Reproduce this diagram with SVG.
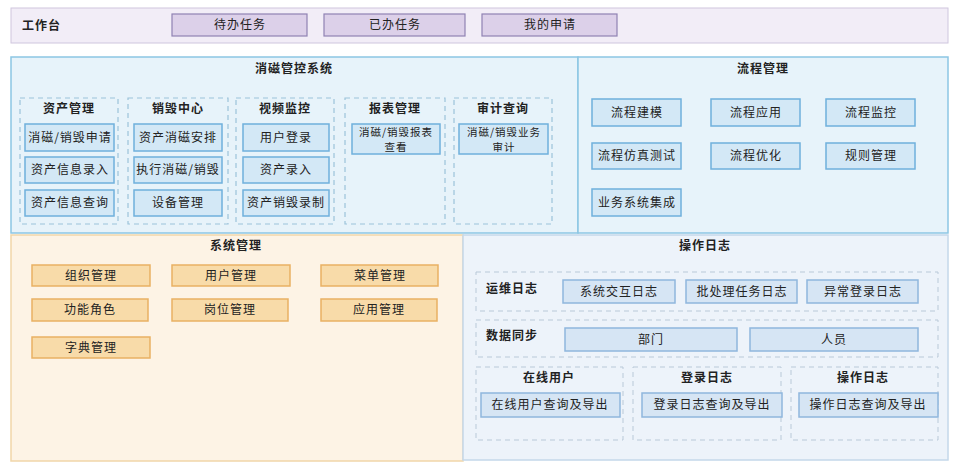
<svg xmlns="http://www.w3.org/2000/svg" width="960" height="474" viewBox="0 0 960 474">
<style>
text{font-family:"Noto Sans CJK SC","Liberation Sans",sans-serif;font-size:12px;fill:#222;letter-spacing:1px}
.t{font-weight:bold;text-anchor:middle}
.tl{font-weight:bold}
.c{text-anchor:middle}
.s{font-size:10.5px}
.bar{fill:#f2edf7;stroke:#cfc6de;stroke-width:1}
.pb{fill:#dcd0e9;stroke:#8f82b3;stroke-width:1.2}
.pnl{fill:#e7f3fa;stroke:#8cc6e4;stroke-width:1.5}
.bx{fill:#d3e8f6;stroke:#6fb0dc;stroke-width:1.5}
.dg{fill:none;stroke:#9cc3da;stroke-width:1.2;stroke-dasharray:5 4}
.sys{fill:#fdf3e5;stroke:#f1d6a9;stroke-width:1.5}
.ob{fill:#f8dba9;stroke:#e9b163;stroke-width:1.5}
.log{fill:#edf3fa;stroke:#c4d8ea;stroke-width:1.5}
.lb{fill:#d6e5f4;stroke:#8fb6dd;stroke-width:1.5}
.dl{fill:none;stroke:#b9c9d8;stroke-width:1;stroke-dasharray:5 4}
</style>
<rect width="960" height="474" fill="#ffffff"/>

<g id="workbench">
<rect class="bar" x="11" y="8" width="937" height="35"/>
<text class="tl" x="22" y="30">工作台</text>
<g id="todo"><rect class="pb" x="172" y="14" width="135" height="22"/><text class="c" x="240" y="29">待办任务</text></g>
<g id="done"><rect class="pb" x="324" y="14" width="141" height="22"/><text class="c" x="395" y="29">已办任务</text></g>
<g id="myapply"><rect class="pb" x="482" y="14" width="135" height="22"/><text class="c" x="550" y="29">我的申请</text></g>
</g>

<g id="demag">
<rect class="pnl" x="11" y="57" width="567" height="176"/>
<text class="t" x="294" y="73">消磁管控系统</text>
<g id="asset">
<rect class="dg" x="20" y="98" width="98" height="126"/>
<text class="t" x="69" y="113">资产管理</text>
<rect class="bx" x="25" y="124" width="89" height="27"/><text class="c" x="70" y="142">消磁/销毁申请</text>
<rect class="bx" x="25" y="157" width="89" height="26"/><text class="c" x="70" y="174">资产信息录入</text>
<rect class="bx" x="25" y="190" width="89" height="26"/><text class="c" x="70" y="207">资产信息查询</text>
</g>
<g id="destroy">
<rect class="dg" x="128" y="98" width="100" height="126"/>
<text class="t" x="178" y="113">销毁中心</text>
<rect class="bx" x="134" y="124" width="88" height="27"/><text class="c" x="178" y="142">资产消磁安排</text>
<rect class="bx" x="134" y="157" width="88" height="26"/><text class="c" x="178" y="174">执行消磁/销毁</text>
<rect class="bx" x="134" y="190" width="88" height="26"/><text class="c" x="178" y="207">设备管理</text>
</g>
<g id="video">
<rect class="dg" x="236" y="98" width="98" height="126"/>
<text class="t" x="285" y="113">视频监控</text>
<rect class="bx" x="243" y="124" width="86" height="27"/><text class="c" x="286" y="142">用户登录</text>
<rect class="bx" x="243" y="157" width="86" height="26"/><text class="c" x="286" y="174">资产录入</text>
<rect class="bx" x="243" y="190" width="86" height="26"/><text class="c" x="286" y="207">资产销毁录制</text>
</g>
<g id="report">
<rect class="dg" x="345" y="98" width="100" height="126"/>
<text class="t" x="395" y="113">报表管理</text>
<rect class="bx" x="352" y="124" width="88" height="30"/>
<text class="c s" x="396" y="135.5">消磁/销毁报表</text><text class="c s" x="396" y="150.5">查看</text>
</g>
<g id="audit">
<rect class="dg" x="454" y="98" width="98" height="126"/>
<text class="t" x="503" y="113">审计查询</text>
<rect class="bx" x="459" y="124" width="89" height="30"/>
<text class="c s" x="504" y="135.5">消磁/销毁业务</text><text class="c s" x="504" y="150.5">审计</text>
</g>
</g>

<g id="flow">
<rect class="pnl" x="578" y="57" width="370" height="176"/>
<text class="t" x="763" y="73">流程管理</text>
<rect class="bx" x="592" y="99" width="89" height="27"/><text class="c" x="637" y="117">流程建模</text>
<rect class="bx" x="711" y="99" width="89" height="27"/><text class="c" x="756" y="117">流程应用</text>
<rect class="bx" x="826" y="99" width="89" height="27"/><text class="c" x="871" y="117">流程监控</text>
<rect class="bx" x="592" y="143" width="89" height="26"/><text class="c" x="637" y="160">流程仿真测试</text>
<rect class="bx" x="711" y="143" width="89" height="26"/><text class="c" x="756" y="160">流程优化</text>
<rect class="bx" x="826" y="143" width="89" height="26"/><text class="c" x="871" y="160">规则管理</text>
<rect class="bx" x="592" y="189" width="89" height="27"/><text class="c" x="637" y="207">业务系统集成</text>
</g>

<g id="sysmgmt">
<rect class="sys" x="11" y="235" width="452" height="226"/>
<text class="t" x="236" y="250">系统管理</text>
<rect class="ob" x="32" y="265" width="118" height="21"/><text class="c" x="91" y="280">组织管理</text>
<rect class="ob" x="172" y="265" width="118" height="21"/><text class="c" x="231" y="280">用户管理</text>
<rect class="ob" x="321" y="265" width="117" height="21"/><text class="c" x="380" y="280">菜单管理</text>
<rect class="ob" x="32" y="299" width="116" height="22"/><text class="c" x="90" y="314">功能角色</text>
<rect class="ob" x="172" y="299" width="116" height="22"/><text class="c" x="230" y="314">岗位管理</text>
<rect class="ob" x="321" y="299" width="116" height="22"/><text class="c" x="379" y="314">应用管理</text>
<rect class="ob" x="32" y="337" width="118" height="21"/><text class="c" x="91" y="352">字典管理</text>
</g>

<g id="oplog">
<rect class="log" x="463" y="235" width="485" height="225"/>
<text class="t" x="705" y="250">操作日志</text>
<g id="ops">
<rect class="dl" x="476" y="272" width="462" height="39"/>
<text class="tl" x="486" y="293">运维日志</text>
<rect class="lb" x="563" y="280" width="112" height="23"/><text class="c" x="619" y="296">系统交互日志</text>
<rect class="lb" x="686" y="280" width="111" height="23"/><text class="c" x="742" y="296">批处理任务日志</text>
<rect class="lb" x="807" y="280" width="111" height="23"/><text class="c" x="863" y="296">异常登录日志</text>
</g>
<g id="sync">
<rect class="dl" x="476" y="320" width="462" height="37"/>
<text class="tl" x="486" y="340">数据同步</text>
<rect class="lb" x="565" y="328" width="172" height="23"/><text class="c" x="651" y="344">部门</text>
<rect class="lb" x="750" y="328" width="168" height="23"/><text class="c" x="834" y="344">人员</text>
</g>
<g id="online">
<rect class="dl" x="476" y="367" width="147" height="73"/>
<text class="t" x="549" y="382">在线用户</text>
<rect class="lb" x="481" y="393" width="139" height="24"/><text class="c" x="550" y="409">在线用户查询及导出</text>
</g>
<g id="loginlog">
<rect class="dl" x="633" y="367" width="148" height="73"/>
<text class="t" x="707" y="382">登录日志</text>
<rect class="lb" x="642" y="393" width="140" height="24"/><text class="c" x="712" y="409">登录日志查询及导出</text>
</g>
<g id="actlog">
<rect class="dl" x="791" y="367" width="147" height="73"/>
<text class="t" x="863" y="382">操作日志</text>
<rect class="lb" x="799" y="393" width="139" height="24"/><text class="c" x="868" y="409">操作日志查询及导出</text>
</g>
</g>
<g id="connectors"></g>
</svg>
